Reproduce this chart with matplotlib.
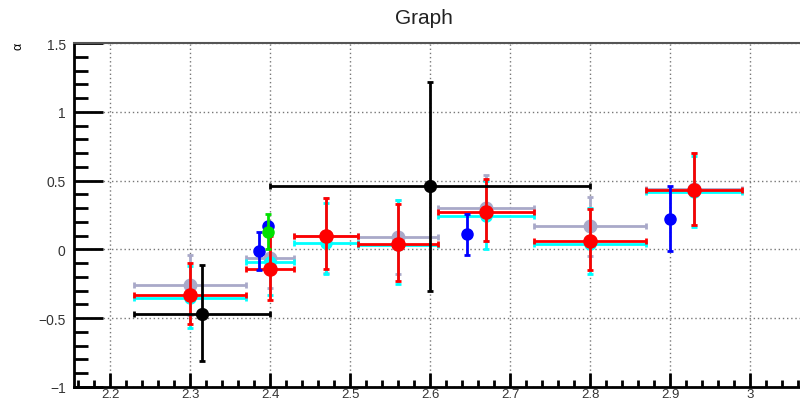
import numpy as np
import matplotlib
matplotlib.use("Agg")
import matplotlib.pyplot as plt
from matplotlib.ticker import MultipleLocator

plt.rcParams['font.family'] = ['Liberation Sans', 'DejaVu Sans']

# shared bins for the grey / cyan / red graphs
bin_x = [2.30, 2.40, 2.47, 2.56, 2.67, 2.80, 2.93]
bin_lo = [2.23, 2.37, 2.43, 2.51, 2.61, 2.73, 2.87]
bin_hi = [2.37, 2.43, 2.51, 2.61, 2.73, 2.87, 2.99]

grey_y = [-0.26, -0.06, 0.10, 0.09, 0.30, 0.17, 0.44]
grey_up = [-0.04, 0.16, 0.37, 0.36, 0.54, 0.38, 0.70]
grey_dn = [-0.48, -0.28, -0.17, -0.18, 0.06, -0.05, 0.18]

cyan_y = [-0.35, -0.09, 0.05, 0.03, 0.24, 0.04, 0.42]
cyan_up = [-0.12, 0.12, 0.34, 0.36, 0.50, 0.30, 0.68]
cyan_dn = [-0.57, -0.33, -0.18, -0.25, 0.00, -0.18, 0.16]

red_y = [-0.33, -0.14, 0.10, 0.04, 0.27, 0.06, 0.43]
red_up = [-0.10, 0.10, 0.37, 0.33, 0.51, 0.29, 0.70]
red_dn = [-0.54, -0.37, -0.14, -0.23, 0.06, -0.15, 0.18]

black_x = [2.315, 2.60]
black_lo = [2.23, 2.40]
black_hi = [2.40, 2.80]
black_y = [-0.47, 0.46]
black_up = [-0.11, 1.22]
black_dn = [-0.81, -0.30]

blue_x = [2.386, 2.397, 2.646, 2.90]
blue_y = [-0.01, 0.17, 0.11, 0.22]
blue_up = [0.13, 0.19, 0.26, 0.46]
blue_dn = [-0.15, 0.15, -0.04, -0.01]

green_x = [2.398]
green_y = [0.13]
green_up = [0.26]
green_dn = [0.00]

fig = plt.figure(figsize=(8, 4.06), dpi=100)
# axes run past the right edge of the picture, like the cropped reference
ax = fig.add_axes([74 / 800, 18 / 406, (830 - 74) / 800, 344 / 406])


def draw(x, y, up, dn, color, lo=None, hi=None, ms=9, z=2):
    x = np.array(x)
    y = np.array(y)
    yerr = [y - np.array(dn), np.array(up) - y]
    xerr = None
    if lo is not None:
        xerr = [x - np.array(lo), np.array(hi) - x]
    ax.errorbar(x, y, yerr=yerr, xerr=xerr, fmt='o', color=color, ms=ms,
                lw=2, capsize=2, capthick=2, zorder=z)


draw(bin_x, grey_y, grey_up, grey_dn, '#a9a9c9', bin_lo, bin_hi, z=2)
draw(bin_x, cyan_y, cyan_up, cyan_dn, '#00ffff', bin_lo, bin_hi, ms=8, z=3)
draw(bin_x, red_y, red_up, red_dn, '#ff0000', bin_lo, bin_hi, ms=9.5, z=4)
draw(black_x, black_y, black_up, black_dn, 'black', black_lo, black_hi, ms=8.5, z=5)
draw(blue_x, blue_y, blue_up, blue_dn, '#0000ff', ms=8, z=5)
draw(green_x, green_y, green_up, green_dn, '#00e000', ms=8, z=6)

ax.set_xlim(2.155, 3.1)
ax.set_ylim(-1, 1.5)
ax.xaxis.set_minor_locator(MultipleLocator(0.02))
ax.yaxis.set_minor_locator(MultipleLocator(0.1))
ax.set_xticks(np.arange(2.2, 3.05, 0.1))
ax.set_xticklabels(['2.2', '2.3', '2.4', '2.5', '2.6', '2.7', '2.8', '2.9', '3'])
ax.set_yticks([-1, -0.5, 0, 0.5, 1, 1.5])
ax.set_yticklabels(['\u22121', '\u22120.5', '0', '0.5', '1', '1.5'])

ax.tick_params(axis='y', which='major', direction='in', length=21, width=2, labelsize=10, pad=6)
ax.tick_params(axis='y', which='minor', direction='in', length=10, width=2)
ax.tick_params(axis='x', which='major', direction='in', length=10, width=2, labelsize=9.5, pad=1)
ax.tick_params(axis='x', which='minor', direction='in', length=5, width=2)
ax.tick_params(colors='black', labelcolor='#333333')

ax.grid(True, which='major', linestyle=(0, (1, 2)), color='#777777', lw=1)
ax.set_axisbelow(True)

ax.spines['left'].set_linewidth(2)
ax.spines['bottom'].set_linewidth(2)
ax.spines['top'].set_linewidth(1.5)
ax.spines['top'].set_color('#555555')
ax.spines['right'].set_visible(False)

fig.text(424 / 800, 1 - 18 / 406, 'Graph', ha='center', va='center', fontsize=15, color='#222222')
fig.text(18 / 800, 1 - 46 / 406, '\u03b1', ha='center', va='center', rotation=90, fontsize=9)

fig.savefig('out.png', dpi=100)
